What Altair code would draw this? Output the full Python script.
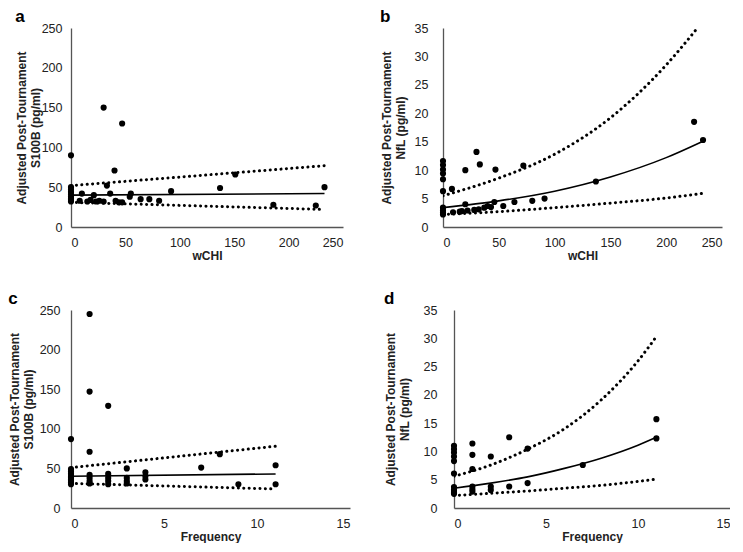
import altair as alt
import pandas as pd

# ---------------- data ----------------
# Panel a: wCHI vs S100B
a_x = [0, 0, 0, 0, 0, 0, 0, 0, 0,
       8, 10, 15, 18, 21, 23, 26, 30, 30, 33, 36, 40, 41, 44, 47, 47,
       54, 55, 64, 72, 81, 92, 137, 151, 186, 225, 233]
a_y = [90, 50, 47, 44, 41, 38, 36, 34, 32,
       33, 42, 32, 34, 40, 32, 33, 150, 32, 52, 42, 71, 33, 31, 130, 31,
       38, 42, 35, 35, 33, 45, 49, 66, 28, 27, 50]
a_fit_x = [0, 233]
a_fit = [40, 42]
a_upper = [52, 77]
a_lower = [31, 22]

# Panel b: wCHI vs NfL
b_x = [0, 0, 0, 0, 0, 0, 0, 0, 0, 0,
       8, 20, 30, 33, 47, 72, 137, 225, 233,
       9, 15, 17, 20, 22, 28, 32, 37, 40, 43, 46, 54, 64, 80, 91]
b_y = [11.6, 10.9, 10.1, 9.4, 8.4, 6.3, 3.4, 2.9, 2.5, 2.2,
       6.7, 10.0, 13.2, 11.0, 10.1, 10.8, 8.0, 18.5, 15.3,
       2.6, 2.7, 2.8, 4.0, 2.9, 3.0, 3.1, 3.4, 3.7, 3.5, 4.4, 3.7, 4.4, 4.6, 5.0]
b_fit_x = [0, 50, 100, 150, 200, 232]
b_fit = [3.4, 4.6, 6.3, 8.8, 12.2, 15.0]
b_upper_x = [0, 50, 100, 150, 200, 228]
b_upper = [5.5, 8.6, 12.8, 19.2, 28.5, 35.0]
b_lower = [2.2, 2.7, 3.4, 4.2, 5.1, 5.9]

# Panel c: Frequency vs S100B
c_x = [0] * 10 + [1] * 7 + [2] * 5 + [3] * 4 + [4] * 3 + [7, 8, 9, 11, 11]
c_y = [87, 49, 46, 43, 40, 38, 36, 34, 32, 30,
       245, 147, 71, 42, 38, 34, 31,
       129, 43, 38, 34, 30,
       50, 38, 34, 31,
       45, 40, 36,
       51, 68, 30, 54, 30]
c_fit_x = [0, 11]
c_fit = [40, 43]
c_upper = [51, 78]
c_lower = [31, 24]

# Panel d: Frequency vs NfL
d_x = [0] * 10 + [1] * 6 + [2] * 3 + [3] * 2 + [4] * 2 + [7, 11, 11]
d_y = [11.0, 10.4, 9.8, 9.1, 8.3, 6.1, 3.7, 3.2, 2.8, 2.5,
       11.4, 9.4, 6.9, 3.8, 3.3, 2.9,
       9.1, 3.8, 3.2,
       12.5, 3.8,
       10.5, 4.4,
       7.6, 15.7, 12.3]
d_fit_x = [0, 2, 4, 6, 8, 10, 11]
d_fit = [3.5, 4.4, 5.5, 7.0, 8.8, 11.1, 12.5]
d_upper = [5.6, 7.6, 10.4, 14.0, 19.1, 26.0, 30.3]
d_lower = [2.2, 2.6, 3.0, 3.5, 4.0, 4.7, 5.1]

FONT = "Liberation Sans"


def fit_frame(fx, fy, ux, uy, lx, ly):
    rows = []
    for x, y in zip(fx, fy):
        rows.append({"x": x, "y": y, "band": "fit"})
    for x, y in zip(ux, uy):
        rows.append({"x": x, "y": y, "band": "upper"})
    for x, y in zip(lx, ly):
        rows.append({"x": x, "y": y, "band": "lower"})
    return pd.DataFrame(rows)


def panel(letter, px, py, fits, xtitle, ytitle, xdom, xticks, ydom, yticks, w, h,
          ytp=5, ylp=9):
    xs = alt.Scale(domain=xdom, nice=False)
    ys = alt.Scale(domain=ydom, nice=False)
    xax = alt.Axis(values=xticks, title=xtitle, labelOverlap=False)
    yax = alt.Axis(values=yticks, title=ytitle, labelOverlap=False,
                   titlePadding=ytp, labelPadding=ylp)
    X = alt.X("x:Q", scale=xs, axis=xax)
    Y = alt.Y("y:Q", scale=ys, axis=yax)
    pts = alt.Chart(pd.DataFrame({"x": px, "y": py})).mark_circle(
        size=38, color="black", opacity=1
    ).encode(x=X, y=Y)
    solid = alt.Chart(fits).transform_filter(alt.datum.band == "fit").mark_line(
        color="black", strokeWidth=1.6, interpolate="monotone"
    ).encode(x=X, y=Y)
    dotted = alt.Chart(fits).transform_filter(alt.datum.band != "fit").mark_line(
        color="black", strokeWidth=3, strokeDash=[0.1, 5.3], strokeCap="round",
        interpolate="monotone", clip=True
    ).encode(x=X, y=Y, detail="band:N")
    return alt.layer(dotted, solid, pts).properties(
        width=w, height=h,
        title=alt.TitleParams(letter, anchor="start", fontSize=17, fontWeight="bold",
                              font=FONT, color="black", offset=-4)
    )


s100b_title = ["Adjusted Post-Tournament", "S100B (pg/ml)"]
nfl_title = ["Adjusted Post-Tournament", "NfL (pg/ml)"]

pa = panel("a", a_x, a_y, fit_frame(a_fit_x, a_fit, a_fit_x, a_upper, a_fit_x, a_lower),
           "wCHI", s100b_title, [0, 250], [0, 50, 100, 150, 200, 250],
           [0, 250], [0, 50, 100, 150, 200, 250], 272, 199, ytp=-1, ylp=9)
pb = panel("b", b_x, b_y, fit_frame(b_fit_x, b_fit, b_upper_x, b_upper, b_fit_x, b_lower),
           "wCHI", nfl_title, [0, 250], [0, 50, 100, 150, 200, 250],
           [0, 35], [0, 5, 10, 15, 20, 25, 30, 35], 279, 199, ytp=7, ylp=15)
pc = panel("c", c_x, c_y, fit_frame(c_fit_x, c_fit, c_fit_x, c_upper, c_fit_x, c_lower),
           "Frequency", s100b_title, [0, 15], [0, 5, 10, 15],
           [0, 250], [0, 50, 100, 150, 200, 250], 279, 198, ytp=4, ylp=11)
pd_ = panel("d", d_x, d_y, fit_frame(d_fit_x, d_fit, d_fit_x, d_upper, d_fit_x, d_lower),
            "Frequency", nfl_title, [0, 15], [0, 5, 10, 15],
            [0, 35], [0, 5, 10, 15, 20, 25, 30, 35], 276, 198, ytp=12, ylp=17)

chart = alt.vconcat(
    alt.hconcat(pa, pb, spacing=37),
    alt.hconcat(pc, pd_, spacing=34),
    spacing=28,
).properties(
    padding={"left": 0, "top": 0, "right": 0, "bottom": 0}
).configure_view(stroke=None).configure_axis(
    grid=False, ticks=False, domainColor="#555555", domainWidth=1.3,
    labelFont=FONT, labelFontSize=12.5, labelColor="#222222", labelPadding=9,
    titleFont=FONT, titleFontSize=12, titleFontWeight="bold", titleColor="#222222",
    titleLineHeight=14,
).configure_axisX(titlePadding=2)

chart.save("out.html", embed_options={"renderer": "svg", "actions": False})
